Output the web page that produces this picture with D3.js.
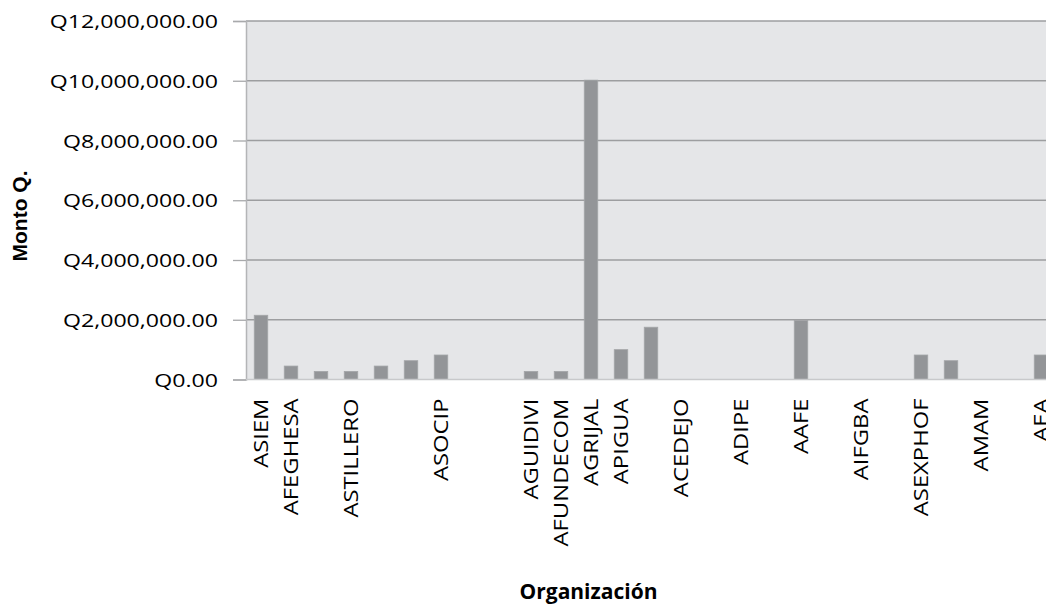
<!DOCTYPE html>
<html><head><meta charset="utf-8">
<script src="https://cdn.jsdelivr.net/npm/d3@7"></script>
<style>html,body{margin:0;padding:0;background:#fff;overflow:hidden}</style>
</head><body>
<svg id="chart" width="1046" height="606"></svg>
<script>
const categories = ["ASIEM","AFEGHESA","","ASTILLERO","","","ASOCIP","","","AGUIDIVI","AFUNDECOM","AGRIJAL","APIGUA","","ACEDEJO","","ADIPE","","AAFE","","AIFGBA","","ASEXPHOF","","AMAM","","AEA"];
const values = [2150000,450000,270000,270000,450000,630000,820000,0,0,270000,270000,10020000,1000000,1750000,0,0,0,0,1980000,0,0,0,820000,630000,0,0,820000];
const yTicks = [0,2000000,4000000,6000000,8000000,10000000,12000000];
const yTitle = "Monto Q.";
const xTitle = "Organización";

const svg = d3.select("#chart");
const pLeft = 246, pTop = 21, pBottom = 379.5, band = 30;
const pRight = pLeft + band * categories.length + 10;

const x = d3.scaleBand().domain(d3.range(categories.length)).range([pLeft, pLeft + band * categories.length]).paddingInner(0.55).paddingOuter(0.275);
const y = d3.scaleLinear().domain([0, 12000000]).range([pBottom, pTop]);

svg.append("rect").attr("x", pLeft).attr("y", pTop).attr("width", pRight - pLeft).attr("height", pBottom - pTop).attr("fill", "#e5e6e8");

// gridlines
svg.append("g").selectAll("line").data(yTicks.slice(1)).join("line")
  .attr("x1", pLeft).attr("x2", pRight).attr("y1", d => y(d)).attr("y2", d => y(d))
  .attr("stroke", "#9d9ea0").attr("stroke-width", 1.5);

// bars
svg.append("g").selectAll("rect").data(values).join("rect")
  .attr("x", (d, i) => x(i)).attr("width", x.bandwidth())
  .attr("y", d => y(d)).attr("height", d => pBottom - y(d))
  .attr("fill", "#939598").attr("stroke", "#a4a6a8").attr("stroke-width", 0.8);

// y axis
const yAxis = d3.axisLeft(y).tickValues(yTicks).tickSize(13).tickPadding(0).tickFormat(d => "");
const ya = svg.append("g").attr("transform", `translate(${pLeft},0)`).call(yAxis);
ya.select(".domain").attr("stroke", "#b4b5b7").attr("stroke-width", 1.5);
ya.selectAll(".tick line").attr("stroke", "#a8a9ab").attr("stroke-width", 1.3);
const fmt = d => "Q" + d3.format(",.2f")(d);
ya.selectAll(".tick").append("text")
  .attr("fill", "#000").attr("text-anchor", "end")
  .attr("font-family", "Open Sans").attr("font-size", 18.5)
  .attr("transform", "translate(-28,6.5) scale(1.25,1)")
  .attr("x", 0).text(d => fmt(d));

// x axis
const xAxis = d3.axisBottom(x).tickSize(0).tickFormat(i => categories[i]);
const xa = svg.append("g").attr("transform", `translate(0,${pBottom})`).call(xAxis);
xa.select(".domain").attr("stroke", "#c8c9cb").attr("stroke-width", 1.5).attr("d", `M${pLeft},0H${pRight}`);
xa.selectAll(".tick text")
  .attr("font-family", "Open Sans").attr("font-size", 23.8).attr("fill", "#000")
  .attr("text-anchor", "end").attr("x", 0).attr("y", 0).attr("dy", "0.36em")
  .attr("transform", "translate(0,19) scale(0.84,1) rotate(-90)");

// titles
svg.append("text").attr("transform", "translate(27,216) scale(0.93,1) rotate(-90)")
  .attr("text-anchor", "middle").attr("font-family", "Liberation Sans").attr("font-weight", "bold")
  .attr("font-size", 21).attr("fill", "#000").text(yTitle);
svg.append("text").attr("x", 588.5).attr("y", 599)
  .attr("text-anchor", "middle").attr("font-family", "Open Sans").attr("font-weight", "bold")
  .attr("font-size", 21).attr("fill", "#000").text(xTitle);
</script>
</body></html>
